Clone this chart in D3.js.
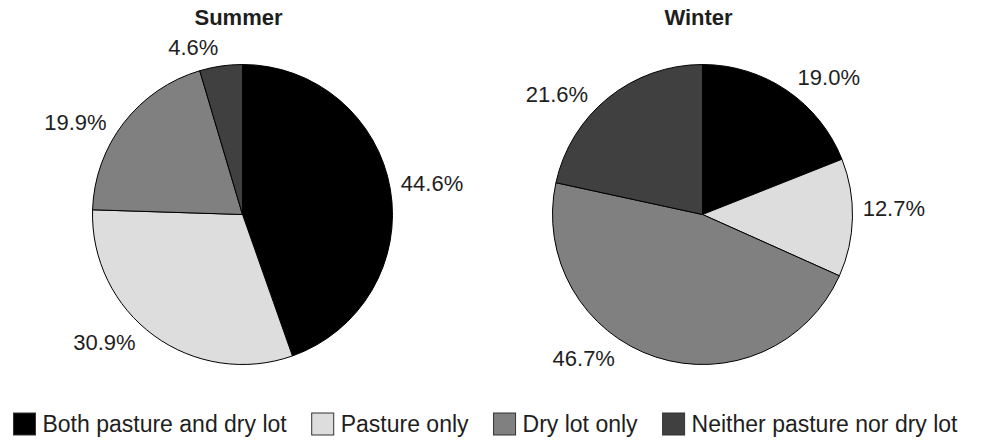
<!DOCTYPE html>
<html><head><meta charset="utf-8">
<script src="https://cdn.jsdelivr.net/npm/d3@7/dist/d3.min.js"></script>
<style>body{margin:0;background:#fff}svg{display:block}</style>
</head><body><div id="chart"></div>
<script>
// ---- data ----
const seasons = ["Summer", "Winter"];
const categories = ["Both pasture and dry lot", "Pasture only", "Dry lot only", "Neither pasture nor dry lot"];
const summerValues = [44.6, 30.9, 19.9, 4.6];
const winterValues = [19.0, 12.7, 46.7, 21.6];

// ---- styles / layout ----
const colors = ["#000000", "#dddddd", "#808080", "#404040"];
const W = 981, H = 445;
const radius = 150;
const pieY = 214.5;
const labelGap = 10;
// angular nudges (degrees) for label placement, as in the source layout
const labelNudge = { Summer: [0.4, 11, -8.6, -8.1], Winter: [8.3, -3.3, 21.5, -11.5] };
const textColor = "#1e1e1e";
const fontFamily = "Arial, 'Liberation Sans', Helvetica, sans-serif";

const svg = d3.select("#chart").append("svg").attr("width", W).attr("height", H)
  .style("font-family", fontFamily);

const xPie = d3.scalePoint().domain(seasons).range([242.5, 702.5]);
const valuesBySeason = { Summer: summerValues, Winter: winterValues };
const colorScale = d3.scaleOrdinal().domain(categories).range(colors);

const pie = d3.pie().sort(null).value(d => d.value);
const arc = d3.arc().innerRadius(0).outerRadius(radius);

seasons.forEach(season => {
  const data = categories.map((c, i) => ({ cat: c, value: valuesBySeason[season][i], i }));
  const arcs = pie(data);
  const g = svg.append("g").attr("transform", `translate(${xPie(season)},${pieY})`);

  g.selectAll("path.slice").data(arcs).join("path")
    .attr("class", "slice")
    .attr("d", arc)
    .attr("fill", d => colorScale(d.data.cat))
    .attr("stroke", "#000")
    .attr("stroke-width", 1);

  // title
  svg.append("text")
    .attr("x", xPie(season) - 4)
    .attr("y", 25)
    .attr("text-anchor", "middle")
    .attr("font-size", "22px")
    .attr("font-weight", "bold")
    .attr("fill", textColor)
    .text(season);

  // labels
  const fs = 22;
  g.selectAll("text.lbl").data(arcs).join("text")
    .attr("class", "lbl")
    .attr("font-size", fs + "px")
    .attr("fill", textColor)
    .attr("text-anchor", "middle")
    .attr("dy", "0.36em")
    .text(d => d.data.value.toFixed(1) + "%")
    .each(function (d, idx) {
      const w = this.getComputedTextLength();
      const h = fs * 0.72;
      const a = (d.startAngle + d.endAngle) / 2 + labelNudge[season][idx] * Math.PI / 180;
      const s = Math.sin(a), c = -Math.cos(a);
      const dist = radius + labelGap + Math.abs(s) * w / 2 + Math.abs(c) * h / 2;
      d3.select(this).attr("x", s * dist).attr("y", c * dist);
    });
});

// ---- legend ----
const legendFs = 23, box = 22, boxGap = 7, itemGap = 25;
const leg = svg.append("g");
const items = leg.selectAll("g.item").data(categories).join("g").attr("class", "item");
items.append("rect")
  .attr("width", box).attr("height", box)
  .attr("y", 413)
  .attr("fill", d => colorScale(d))
  .attr("stroke", "#333").attr("stroke-width", 1);
items.append("text")
  .attr("x", box + boxGap)
  .attr("y", 432)
  .attr("font-size", legendFs + "px")
  .attr("fill", textColor)
  .text(d => d);
let widths = [];
items.each(function () { widths.push(box + boxGap + d3.select(this).select("text").node().getComputedTextLength()); });
const total = d3.sum(widths) + itemGap * (widths.length - 1);
let x0 = (W - total) / 2 - 5;
items.attr("transform", (d, i) => {
  const x = x0 + d3.sum(widths.slice(0, i)) + itemGap * i;
  return `translate(${x},0)`;
});
</script></body></html>
